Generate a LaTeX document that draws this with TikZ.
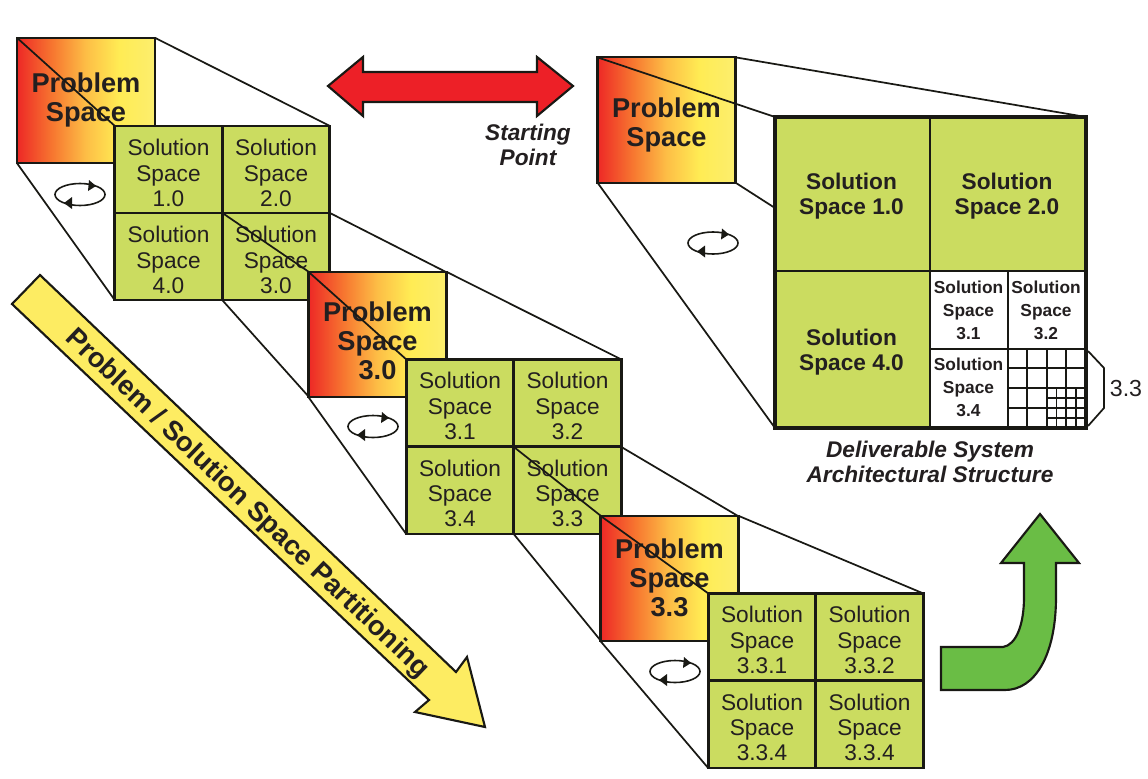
\documentclass[tikz,border=0pt]{standalone}
\usepackage{fontspec}
\setmainfont{Liberation Sans}
\definecolor{ink}{RGB}{35,31,32}
\definecolor{lineink}{RGB}{25,25,20}
\definecolor{solgreen}{RGB}{203,220,96}
\definecolor{arrowgreen}{RGB}{106,189,69}
\definecolor{arrowred}{RGB}{237,32,39}
\definecolor{arrowyellow}{RGB}{253,236,98}
\definecolor{pa}{RGB}{237,40,38}
\definecolor{pb}{RGB}{247,120,48}
\definecolor{pc}{RGB}{253,190,70}
\definecolor{pd}{RGB}{255,236,84}
\definecolor{pe}{RGB}{252,238,110}
\pgfdeclarehorizontalshading{probgrad}{100bp}{color(0bp)=(pa);color(25bp)=(pa);color(38bp)=(pb);color(50bp)=(pc);color(62bp)=(pd);color(75bp)=(pe);color(100bp)=(pe)}
\tikzset{
  probbox/.style={draw=lineink,line width=1.6pt,shading=probgrad,shading angle=0,minimum width=103.5pt,minimum height=94pt,inner sep=0pt,outer sep=0pt},
  probtext/.style={align=center,inner sep=0pt,text=ink,font=\fontsize{20.4}{21.8}\selectfont\bfseries},
  solcell/.style={draw=lineink,line width=2pt,fill=solgreen,minimum width=80.6pt,minimum height=65.4pt,inner sep=0pt,outer sep=0pt},
  soltext/.style={align=center,inner sep=0pt,text=ink,font=\fontsize{17}{19}\selectfont},
  bigcell/.style={draw=lineink,line width=1.6pt,fill=solgreen,inner sep=0pt,outer sep=0pt},
  bigtext/.style={align=center,inner sep=0pt,text=ink,font=\fontsize{17}{18.9}\selectfont\bfseries},
  whitecell/.style={draw=lineink,line width=1.6pt,fill=white,minimum width=58.5pt,minimum height=58.8pt,inner sep=0pt,outer sep=0pt},
  whitetext/.style={align=center,inner sep=0pt,text=ink,font=\fontsize{13}{17.2}\selectfont\bfseries},
  link/.style={draw=lineink,line width=1.3pt},
  fine/.style={line width=1.35pt,lineink},
  capt/.style={align=center,inner sep=0pt,text=ink,font=\fontsize{17}{18.7}\selectfont\bfseries\itshape},
  bigarrow/.style={draw=lineink,line width=1.6pt,line join=miter},
  cyclemark/.pic={
    \draw[line width=1.2pt,lineink] (0,0) ellipse [x radius=25,y radius=11];
    \fill[lineink] (16,-8.5) -- (9,-14.5) -- (8,-3.5) -- cycle;
    \fill[lineink] (-16,8.5) -- (-8,2.5) -- (-8,14.5) -- cycle;
  }
}
\begin{document}
\begin{tikzpicture}[x=0.75pt,y=-0.75pt]
\useasboundingbox (0,0) rectangle (1148,778);
% ---- level 1
\node[probbox] (p1) at (86,100.5) {};
\node[probtext] (p1t) at (86,99.5) {Problem\\Space};
\node[solcell] (a1) at (168.5,169.5) {};
\node[solcell] (a2) at (276,169.5) {};
\node[solcell] (a4) at (168.5,256.5) {};
\node[solcell] (a3) at (276,256.5) {};
\draw[link] (p1.north east) -- (a2.north east);
\draw[link] (p1.south west) -- (a4.south west);
\draw[link] (p1.north west) -- (a1.north west);
\node[soltext] (a1t) at (168.5,173) {Solution\\Space\\1.0};
\node[soltext] (a2t) at (276,173) {Solution\\Space\\2.0};
\node[soltext] (a4t) at (168.5,260) {Solution\\Space\\4.0};
\node[soltext] (a3t) at (276,260) {Solution\\Space\\3.0};
\pic at (80,194.5) {cyclemark};
% ---- level 2
\coordinate (p2nw) at (309,272);
\draw[link] (a3.north west) -- (p2nw);
\draw[link] (a3.north east) -- (446,272);
\draw[link] (a3.south west) -- (309,397);
\node[probbox] (p2) at (377.5,334.5) {};
\node[probtext] (p2t) at (377.5,341) {Problem\\Space\\3.0};
\node[solcell] (b1) at (460,403) {};
\node[solcell] (b2) at (567.5,403) {};
\node[solcell] (b4) at (460,490.5) {};
\node[solcell] (b3) at (567.5,490.5) {};
\draw[link] (p2.north east) -- (b2.north east);
\draw[link] (p2.south west) -- (b4.south west);
\draw[link] (p2.north west) -- (b1.north west);
\node[soltext] (b1t) at (460,406) {Solution\\Space\\3.1};
\node[soltext] (b2t) at (567.5,406) {Solution\\Space\\3.2};
\node[soltext] (b4t) at (460,493.5) {Solution\\Space\\3.4};
\node[soltext] (b3t) at (567.5,493.5) {Solution\\Space\\3.3};
\pic at (373,426.5) {cyclemark};
% ---- level 3
\draw[link] (b3.north west) -- (601,516);
\draw[link] (b3.north east) -- (738,516);
\draw[link] (b3.south west) -- (601,641);
\node[probbox] (p3) at (669.5,578.5) {};
\node[probtext] (p3t) at (669.5,578) {Problem\\Space\\3.3};
\node[solcell] (c1) at (762,637) {};
\node[solcell] (c2) at (869.5,637) {};
\node[solcell] (c4) at (762,724.5) {};
\node[solcell] (c3) at (869.5,724.5) {};
\draw[link] (p3.north east) -- (c2.north east);
\draw[link] (p3.south west) -- (c4.south west);
\draw[link] (p3.north west) -- (c1.north west);
\node[soltext] (c1t) at (762,640) {Solution\\Space\\3.3.1};
\node[soltext] (c2t) at (869.5,640) {Solution\\Space\\3.3.2};
\node[soltext] (c4t) at (762,727.5) {Solution\\Space\\3.3.4};
\node[soltext] (c3t) at (869.5,727.5) {Solution\\Space\\3.3.4};
\pic at (675,671.5) {cyclemark};
% ---- right-hand system
\node[probbox] (p4) at (666.5,120) {};
\node[probtext] (p4t) at (666.5,125) {Problem\\Space};
\node[bigcell,minimum width=116.25pt,minimum height=115.5pt] (d1) at (852.5,194) {};
\node[bigcell,minimum width=117pt,minimum height=115.5pt] (d2) at (1008,194) {};
\node[bigcell,minimum width=116.25pt,minimum height=117.75pt] (d4) at (852.5,349.5) {};
\node[bigtext] (d1t) at (851.5,196.5) {Solution\\Space 1.0};
\node[bigtext] (d2t) at (1007,196.5) {Solution\\Space 2.0};
\node[bigtext] (d4t) at (851.5,352) {Solution\\Space 4.0};
\node[whitecell] (e1) at (969,310) {};
\node[whitecell] (e2) at (1047,310) {};
\node[whitecell] (e4) at (969,388.5) {};
\node[whitecell] (e3) at (1047,388.5) {};
\node[whitetext] (e1t) at (968.5,310.5) {Solution\\Space\\3.1};
\node[whitetext] (e2t) at (1046,310.5) {Solution\\Space\\3.2};
\node[whitetext] (e4t) at (968.5,387.5) {Solution\\Space\\3.4};
\foreach \v in {1027,1047,1066} \draw[fine] (\v,349) -- (\v,428);
\foreach \v in {368,388,408} \draw[fine] (1008,\v) -- (1086,\v);
\foreach \v in {1056.5,1076} \draw[fine] (\v,388) -- (\v,428);
\foreach \v in {398,418} \draw[fine] (1047,\v) -- (1086,\v);
\node[draw=lineink,line width=3.6pt,minimum width=233.25pt,minimum height=233.25pt,inner sep=0pt,outer sep=0pt] (frame) at (930.5,272.5) {};
\draw[link] (p4.north west) -- (frame.north west);
\draw[link] (p4.north east) -- (frame.north east);
\draw[link] (p4.south east) -- (775,208);
\draw[link] (p4.south west) -- (frame.south west);
\pic at (713,243) {cyclemark};
\coordinate (br1) at (1088,351);
\coordinate (br2) at (1088,426);
\draw[link] (br1) -- (1104,368) -- (1104,408) -- (br2);
\node[inner sep=0pt,text=ink,font=\fontsize{17.4}{19}\selectfont] (lab33) at (1126,389) {3.3};
% ---- captions
\node[capt] (cap1) at (528,145) {Starting\\Point};
\node[capt] (cap2) at (930,462) {Deliverable System\\Architectural Structure};
% ---- block arrows
\draw[bigarrow,fill=arrowred] (328,86) -- (363,57) -- (363,72) -- (537,72) -- (537,57) -- (573,86) -- (537,116) -- (537,102) -- (363,102) -- (363,116) -- cycle;
\draw[bigarrow,fill=arrowyellow] (12,304) -- (40,275) -- (456,672) -- (467,657) -- (485,727) -- (415,712) -- (429,700) -- cycle;
\node[rotate=-43.7,inner sep=0pt,text=ink,font=\fontsize{20.6}{22}\selectfont\bfseries] (diagl) at (247,504) {Problem / Solution Space Partitioning};
\draw[bigarrow,fill=arrowgreen] (1040,514) -- (1079,563) -- (1056,563) -- (1056,597) .. controls (1056,655) and (1035,690) .. (1005,690) -- (941,690) -- (941,647) -- (1003,647) .. controls (1016,645) and (1024,625) .. (1024,597) -- (1024,563) -- (1001,563) -- cycle;
\end{tikzpicture}
\end{document}
